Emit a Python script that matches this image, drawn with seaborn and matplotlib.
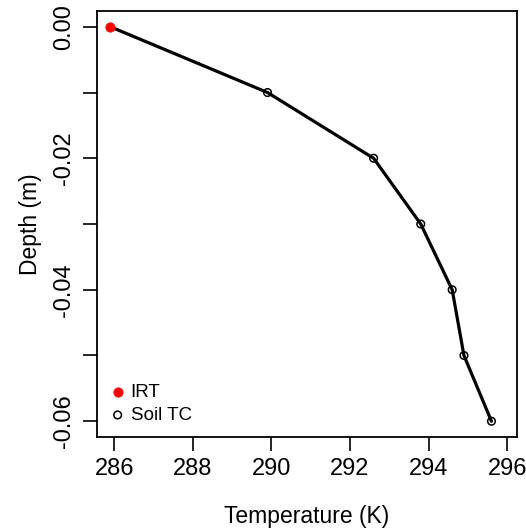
import matplotlib
matplotlib.use("Agg")
import matplotlib.pyplot as plt
import seaborn as sns
import pandas as pd

# soil temperature profile
irtTemp = [285.9]
irtDepth = [0.0]
soilTemp = [285.9, 289.9, 292.6, 293.8, 294.6, 294.9, 295.6]
soilDepth = [0.0, -0.01, -0.02, -0.03, -0.04, -0.05, -0.06]

xTicks = [286, 288, 290, 292, 294, 296]
yTicks = [0.0, -0.01, -0.02, -0.03, -0.04, -0.05, -0.06]
yTickLabels = ["0.00", "", "-0.02", "", "-0.04", "", "-0.06"]

sns.set_style("ticks")
plt.rcParams["font.family"] = ["Liberation Sans", "DejaVu Sans"]
plt.rcParams["axes.unicode_minus"] = False
plt.rcParams["text.color"] = "black"
plt.rcParams["axes.labelcolor"] = "black"
plt.rcParams["xtick.color"] = "black"
plt.rcParams["ytick.color"] = "black"

profileFrame = pd.DataFrame({"Temp": soilTemp, "Depth": soilDepth})
tcFrame = profileFrame.iloc[1:]
irtFrame = pd.DataFrame({"Temp": irtTemp, "Depth": irtDepth})

fig = plt.figure(figsize=(5.26, 5.31), dpi=100)
ax = fig.add_axes([97 / 526, 1 - 437 / 531, 420 / 526, 426 / 531])

sns.lineplot(data=profileFrame, x="Temp", y="Depth", sort=False,
             color="black", linewidth=2.3, ax=ax, legend=False)
sns.scatterplot(data=tcFrame, x="Temp", y="Depth", marker="o",
                facecolor="none", edgecolor="black", linewidth=1.1, s=30,
                ax=ax, label="Soil TC", zorder=3)
sns.scatterplot(data=irtFrame, x="Temp", y="Depth", color="red",
                edgecolor="red", s=45, ax=ax, label="IRT", zorder=4)

ax.set_xlim(285.56, 296.25)
ax.set_ylim(-0.0624, 0.0024)
ax.set_xticks(xTicks)
ax.set_yticks(yTicks)
ax.set_yticklabels(yTickLabels, rotation=90, va="center")
ax.tick_params(axis="both", labelsize=17, length=10, width=1.2,
               color="black", labelcolor="black")
ax.tick_params(axis="x", pad=5)
ax.tick_params(axis="y", pad=6)
for spine in ax.spines.values():
    spine.set_visible(True)
    spine.set_linewidth(1.3)
    spine.set_color("black")

ax.set_xlabel("Temperature (K)", fontsize=16.5, labelpad=18, color="black")
ax.set_ylabel("Depth (m)", fontsize=16.5, labelpad=8, color="black")

handles, labels = ax.get_legend_handles_labels()
order = [labels.index("IRT"), labels.index("Soil TC")]
ax.legend([handles[i] for i in order], [labels[i] for i in order],
          loc="lower left", frameon=False, fontsize=13.5,
          handletextpad=0.3, borderaxespad=0.3, labelspacing=0.3,
          handlelength=0.8, borderpad=0.4)

fig.savefig("out.png", dpi=100)
